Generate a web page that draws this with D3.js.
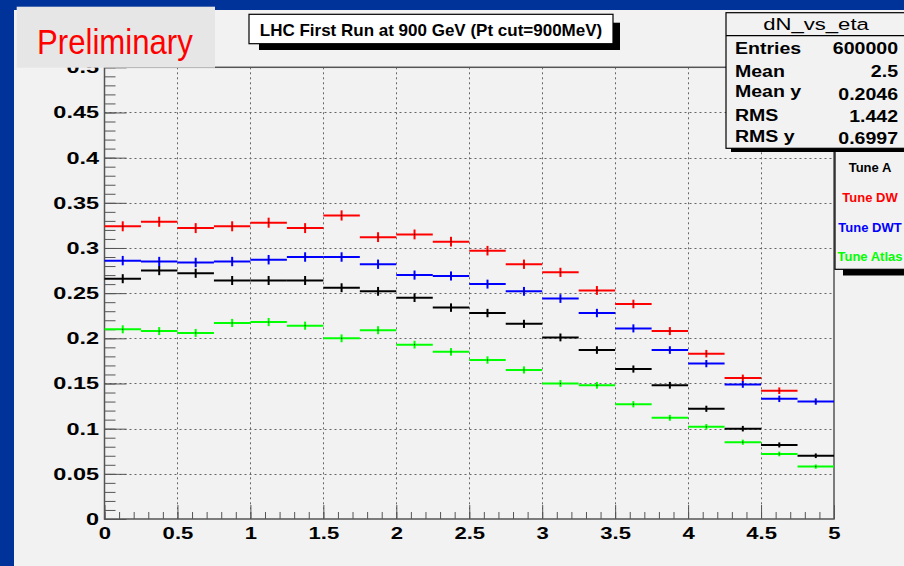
<!DOCTYPE html>
<html>
<head>
<meta charset="utf-8">
<script src="https://cdn.jsdelivr.net/npm/d3@7"></script>
<style>
  html, body { margin: 0; padding: 0; background: #003399; }
  svg { display: block; }
  text { font-family: "Liberation Sans", Arial, Helvetica, sans-serif; }
</style>
</head>
<body>
<svg id="chart" width="904" height="566"></svg>
<script>
// ---- data: dN/deta per eta bin (0.25 wide) for four Pythia tunes ----
const etaEdges = [0, 0.25, 0.5, 0.75, 1, 1.25, 1.5, 1.75, 2, 2.25, 2.5,
                  2.75, 3, 3.25, 3.5, 3.75, 4, 4.25, 4.5, 4.75, 5];

const tuneA     = [0.266, 0.275, 0.272, 0.264, 0.264, 0.264, 0.256, 0.252, 0.245, 0.234,
                   0.228, 0.216, 0.201, 0.187, 0.166, 0.148, 0.122, 0.100, 0.082, 0.070];
const tuneDW    = [0.324, 0.329, 0.322, 0.324, 0.328, 0.322, 0.336, 0.312, 0.315, 0.307,
                   0.297, 0.282, 0.273, 0.253, 0.238, 0.208, 0.183, 0.156, 0.142, null];
const tuneDWT   = [0.286, 0.285, 0.284, 0.285, 0.287, 0.290, 0.290, 0.282, 0.270, 0.269,
                   0.260, 0.252, 0.244, 0.228, 0.211, 0.187, 0.172, 0.149, 0.133, 0.130];
const tuneAtlas = [0.210, 0.208, 0.206, 0.217, 0.218, 0.214, 0.200, 0.209, 0.193, 0.185,
                   0.176, 0.165, 0.150, 0.148, 0.127, 0.112, 0.102, 0.085, 0.072, 0.058];

// statistical (Poisson) errors: per-bin entries scale with the normalised content
const entriesPerUnit = 10600;

const tuneNames  = ["Tune A", "Tune DW", "Tune DWT", "Tune Atlas"];
const tuneColors = ["#000000", "#ff0000", "#0000ff", "#00ff00"];
const tuneValues = [tuneA, tuneDW, tuneDWT, tuneAtlas];

const xMajorTicks = [0, 0.5, 1, 1.5, 2, 2.5, 3, 3.5, 4, 4.5, 5];
const yMajorTicks = [0, 0.05, 0.1, 0.15, 0.2, 0.25, 0.3, 0.35, 0.4, 0.45, 0.5];
const xTickLabels = ["0", "0.5", "1", "1.5", "2", "2.5", "3", "3.5", "4", "4.5", "5"];
const yTickLabels = ["0", "0.05", "0.1", "0.15", "0.2", "0.25", "0.3", "0.35", "0.4", "0.45", "0.5"];

const titleText  = "LHC First Run at 900 GeV (Pt cut=900MeV)";
const statsTitle = "dN_vs_eta";
const statsRows  = [["Entries", "600000"], ["Mean", "2.5"], ["Mean y", "0.2046"],
                    ["RMS", "1.442"], ["RMS y", "0.6997"]];
const stampText  = "Preliminary";

// ---- layout ----
const svg = d3.select("#chart");
const frame = { left: 104.5, right: 834, top: 67.3, bottom: 519 };

const x = d3.scaleLinear().domain([0, 5]).range([frame.left, frame.right]);
const y = d3.scaleLinear().domain([0, 0.5]).range([frame.bottom, frame.top]);

// canvas
svg.append("rect").attr("x", 0).attr("y", 0).attr("width", 904).attr("height", 566).attr("fill", "#003399");
svg.append("rect").attr("x", 14).attr("y", 10).attr("width", 890).attr("height", 556).attr("fill", "#f2f2f2");

// grid
const grid = svg.append("g").attr("stroke", "#666").attr("stroke-width", 1).attr("stroke-dasharray", "2,3");
grid.selectAll("line.gx").data(xMajorTicks.filter(v => v > 0 && v < 5)).join("line")
  .attr("x1", d => Math.round(x(d)) + 0.5).attr("x2", d => Math.round(x(d)) + 0.5)
  .attr("y1", frame.top).attr("y2", frame.bottom);
grid.selectAll("line.gy").data(yMajorTicks.filter(v => v > 0 && v < 0.5)).join("line")
  .attr("y1", d => Math.round(y(d)) + 0.5).attr("y2", d => Math.round(y(d)) + 0.5)
  .attr("x1", frame.left).attr("x2", frame.right);

// axes: ticks point into the frame
const yMinor = d3.range(0, 0.5001, 0.01);
const xMinor = d3.range(0, 5.0001, 0.1);

function styleAxis(g) {
  g.select(".domain").remove();
  g.selectAll(".tick line").attr("stroke", "#555").attr("stroke-width", 1);
}

svg.append("g").attr("transform", `translate(${frame.left},0)`)
  .call(d3.axisLeft(y).tickValues(yMinor).tickSize(-11).tickFormat(""))
  .call(styleAxis);
const yAxis = svg.append("g").attr("transform", `translate(${frame.left},0)`)
  .call(d3.axisLeft(y).tickValues(yMajorTicks).tickSize(-22).tickPadding(4)
        .tickFormat((d, i) => yTickLabels[i]))
  .call(styleAxis);
yAxis.selectAll(".tick text")
  .attr("font-size", 17).attr("font-weight", "bold").attr("fill", "#000")
  .attr("font-family", "'Liberation Sans', Arial, sans-serif")
  .attr("transform", "scale(1.38,1)");

svg.append("g").attr("transform", `translate(0,${frame.bottom})`)
  .call(d3.axisBottom(x).tickValues(xMinor).tickSize(-7).tickFormat(""))
  .call(styleAxis);
const xAxis = svg.append("g").attr("transform", `translate(0,${frame.bottom})`)
  .call(d3.axisBottom(x).tickValues(xMajorTicks).tickSize(-14).tickPadding(8)
        .tickFormat((d, i) => xTickLabels[i]))
  .call(styleAxis);
xAxis.selectAll(".tick text")
  .attr("font-size", 17).attr("font-weight", "bold").attr("fill", "#000")
  .attr("font-family", "'Liberation Sans', Arial, sans-serif")
  .attr("transform", "scale(1.3,1)");

// frame
svg.append("rect")
  .attr("x", frame.left).attr("y", frame.top)
  .attr("width", frame.right - frame.left).attr("height", frame.bottom - frame.top)
  .attr("fill", "none").attr("stroke", "#555").attr("stroke-width", 1.5);

// histograms: horizontal bin content + vertical error bar at bin centre
tuneValues.forEach((vals, s) => {
  const bins = vals.map((v, i) => ({ lo: etaEdges[i], hi: etaEdges[i + 1], v }))
                   .filter(b => b.v !== null);
  const g = svg.append("g").attr("stroke", tuneColors[s]).attr("stroke-width", 2);
  g.selectAll("line.h").data(bins).join("line")
    .attr("x1", b => x(b.lo)).attr("x2", b => x(b.hi))
    .attr("y1", b => y(b.v)).attr("y2", b => y(b.v));
  g.selectAll("line.e").data(bins).join("line")
    .attr("x1", b => x((b.lo + b.hi) / 2)).attr("x2", b => x((b.lo + b.hi) / 2))
    .attr("y1", b => y(b.v - Math.sqrt(b.v / entriesPerUnit)))
    .attr("y2", b => y(b.v + Math.sqrt(b.v / entriesPerUnit)));
  svg.append("g").selectAll("rect").data(bins).join("rect")
    .attr("x", b => x((b.lo + b.hi) / 2) - 0.5).attr("y", b => y(b.v) - 0.5)
    .attr("width", 1).attr("height", 1).attr("fill", "#000");
});

// legend
const legend = svg.append("g");
legend.append("rect").attr("x", 843).attr("y", 269).attr("width", 80).attr("height", 6.5).attr("fill", "#000");
legend.append("rect").attr("x", 835).attr("y", 150.7).attr("width", 90).attr("height", 118.6)
  .attr("fill", "#f2f2f2").attr("stroke", "#000").attr("stroke-width", 1.2);
legend.selectAll("text").data(tuneNames).join("text")
  .attr("x", 870).attr("y", (d, i) => 172.3 + i * 29.6)
  .attr("text-anchor", "middle").attr("font-size", 13).attr("font-weight", "bold")
  .attr("fill", (d, i) => tuneColors[i]).text(d => d);

// stats box
const stats = svg.append("g");
stats.append("rect").attr("x", 731).attr("y", 148).attr("width", 200).attr("height", 4).attr("fill", "#000");
stats.append("rect").attr("x", 726).attr("y", 12.7).attr("width", 200).attr("height", 135.6)
  .attr("fill", "#f2f2f2").attr("stroke", "#000").attr("stroke-width", 1.2);
stats.append("line").attr("x1", 726).attr("x2", 926).attr("y1", 35.7).attr("y2", 35.7)
  .attr("stroke", "#000").attr("stroke-width", 1.2);
stats.append("text").attr("transform", "translate(816,30) scale(1.3,1)")
  .attr("text-anchor", "middle").attr("font-size", 17).attr("fill", "#000").text(statsTitle);
const labelBase = [54, 76.7, 96.7, 120.7, 141.7];
const valueBase = [54, 76.7, 100, 121.5, 144.2];
statsRows.forEach((r, i) => {
  stats.append("text").attr("transform", `translate(735,${labelBase[i]}) scale(1.15,1)`)
    .attr("font-size", 17).attr("font-weight", "bold").attr("fill", "#000").text(r[0]);
  stats.append("text").attr("transform", `translate(898,${valueBase[i]}) scale(1.15,1)`)
    .attr("text-anchor", "end").attr("font-size", 17).attr("font-weight", "bold")
    .attr("fill", "#000").text(r[1]);
});

// title box
const title = svg.append("g");
title.append("rect").attr("x", 259).attr("y", 43.7).attr("width", 361).attr("height", 6.3).attr("fill", "#000");
title.append("rect").attr("x", 613).attr("y", 22.7).attr("width", 7).attr("height", 27.3).attr("fill", "#000");
title.append("rect").attr("x", 249).attr("y", 14.3).attr("width", 364).attr("height", 29.4)
  .attr("fill", "#ffffff").attr("stroke", "#000").attr("stroke-width", 1.2);
title.append("text").attr("x", 431).attr("y", 35.5).attr("text-anchor", "middle")
  .attr("font-size", 17).attr("font-weight", "bold").attr("fill", "#000").text(titleText);

// preliminary stamp
svg.append("rect").attr("x", 16.7).attr("y", 6.7).attr("width", 198.3).attr("height", 61)
  .attr("fill", "#e6e6e6");
svg.append("text").attr("transform", "translate(37,54) scale(0.89,1)")
  .attr("font-size", 35).attr("fill", "#ff0000").text(stampText);
</script>
</body>
</html>
